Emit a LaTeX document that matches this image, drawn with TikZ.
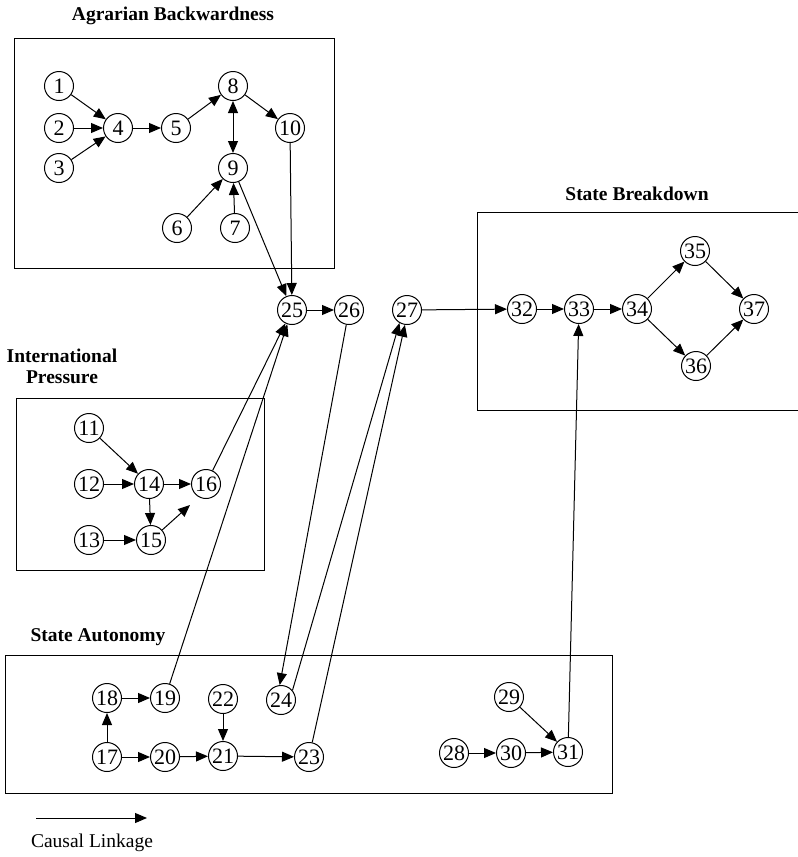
\documentclass[tikz,border=0pt]{standalone}
\usepackage{fontspec}
\setmainfont{Liberation Serif}
\usetikzlibrary{arrows.meta}
\begin{document}
\begin{tikzpicture}[x=1pt,y=-1pt,
  v/.style={circle,draw,line width=1pt,minimum size=29pt,inner sep=0pt,font=\fontsize{22}{22}\selectfont},
  e/.style={line width=1pt,-{Triangle[length=12pt,width=10pt]}},
  ee/.style={line width=1pt,{Triangle[length=12pt,width=10pt]}-{Triangle[length=12pt,width=10pt]}},
  grp/.style={draw,line width=1pt},
  ttl/.style={font=\fontsize{19.5}{22}\selectfont\bfseries,align=center}]
\useasboundingbox (0,0) rectangle (798,857);
% group boxes
\draw[grp] (14,38) rectangle (334,268);
\draw[grp] (16,398) rectangle (264,570);
\draw[grp] (477,212) rectangle (798,410);
\draw[grp] (5,655) rectangle (612,793);
\node[ttl] (tA) at (173,16) {Agrarian Backwardness};
\node[ttl] (tI) at (62,366) {International\\[-1pt]Pressure};
\node[ttl] (tB) at (637,194) {State Breakdown};
\node[ttl,anchor=west] (tS) at (27,637) {State Autonomy};
% agrarian
\node[v] (n1) at (59,86) {1};
\node[v] (n2) at (59,128) {2};
\node[v] (n3) at (59,168) {3};
\node[v] (n4) at (118,128) {4};
\node[v] (n5) at (176,128) {5};
\node[v] (n8) at (233,86) {8};
\node[v] (n10) at (290,128) {10};
\node[v] (n9) at (233,168) {9};
\node[v] (n6) at (177,228) {6};
\node[v] (n7) at (235,228) {7};
% international
\node[v] (n11) at (89,428) {11};
\node[v] (n12) at (89,484) {12};
\node[v] (n13) at (89,540) {13};
\node[v] (n14) at (149,484) {14};
\node[v] (n15) at (151,540) {15};
\node[v] (n16) at (206,484) {16};
\coordinate (c15) at (190,505);
% centre
\node[v] (n25) at (292,310) {25};
\node[v] (n26) at (349,310) {26};
\node[v] (n27) at (407,310) {27};
% breakdown
\node[v] (n32) at (522,309) {32};
\node[v] (n33) at (579,309) {33};
\node[v] (n34) at (637,309) {34};
\node[v] (n35) at (695,251) {35};
\node[v] (n36) at (696,366) {36};
\node[v] (n37) at (754,309) {37};
% autonomy
\node[v] (n18) at (107,698) {18};
\node[v] (n19) at (165,698) {19};
\node[v] (n22) at (223,699) {22};
\node[v] (n24) at (281,700) {24};
\node[v] (n17) at (107,757) {17};
\node[v] (n20) at (165,757) {20};
\node[v] (n21) at (223,756) {21};
\node[v] (n23) at (309,757) {23};
\node[v] (n29) at (509,697) {29};
\node[v] (n28) at (454,753) {28};
\node[v] (n30) at (511,753) {30};
\node[v] (n31) at (568,752) {31};
% legend
\coordinate (l1) at (36,818);
\coordinate (l2) at (147,818);
\draw[e] (l1) -- (l2);
\node[font=\fontsize{19.5}{22}\selectfont] (leg) at (92,843) {Causal Linkage};
% edges
\draw[e] (n1) -- (n4);
\draw[e] (n2) -- (n4);
\draw[e] (n3) -- (n4);
\draw[e] (n4) -- (n5);
\draw[e] (n5) -- (n8);
\draw[ee] (n8) -- (n9);
\draw[e] (n8) -- (n10);
\draw[e] (n6) -- (n9);
\draw[e] (n7) -- (n9);
\draw[e] (n9) -- (n25);
\draw[e] (n10) -- (n25);
\draw[e] (n11) -- (n14);
\draw[e] (n12) -- (n14);
\draw[e] (n13) -- (n15);
\draw[e] (n14) -- (n16);
\draw[e] (n14) -- (n15);
\draw[e] (n15) -- (c15);
\draw[e] (n16) -- (n25);
\draw[e] (n19) -- (n25);
\draw[e] (n25) -- (n26);
\draw[e] (n26) -- (n24.95);
\draw[e] (n24.40) -- (n27.240);
\draw[e] (n23) -- (n27.262);
\draw[e] (n27) -- (n32);
\draw[e] (n32) -- (n33);
\draw[e] (n33) -- (n34);
\draw[e] (n34) -- (n35);
\draw[e] (n34) -- (n36);
\draw[e] (n35) -- (n37);
\draw[e] (n36) -- (n37);
\draw[e] (n31) -- (n33);
\draw[e] (n17) -- (n18);
\draw[e] (n18) -- (n19);
\draw[e] (n17) -- (n20);
\draw[e] (n20) -- (n21);
\draw[e] (n22) -- (n21);
\draw[e] (n21) -- (n23);
\draw[e] (n28) -- (n30);
\draw[e] (n30) -- (n31);
\draw[e] (n29) -- (n31);
\end{tikzpicture}
\end{document}
